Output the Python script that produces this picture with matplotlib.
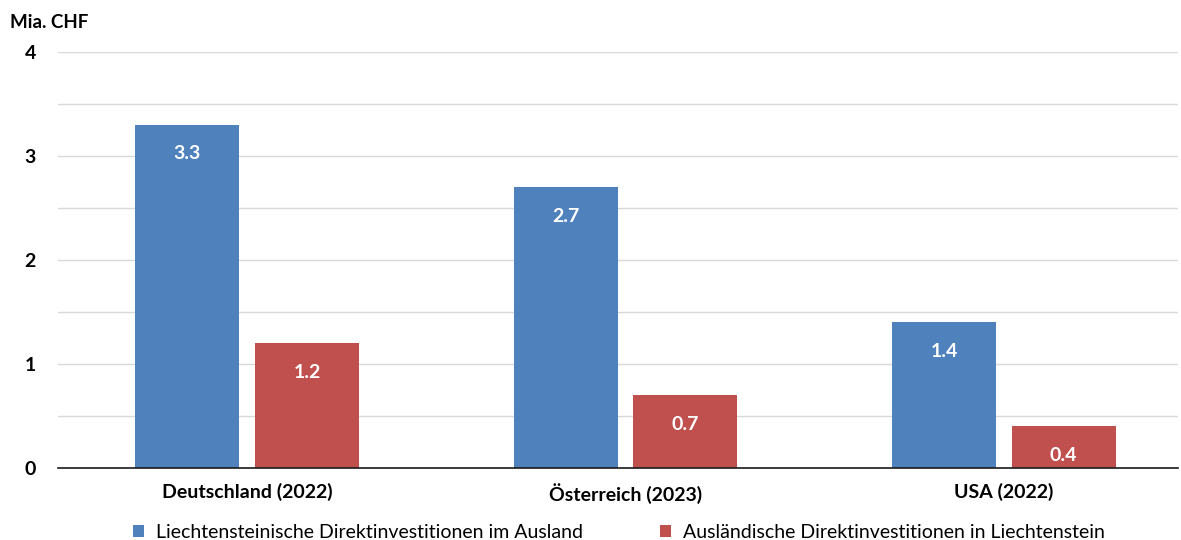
import numpy as np
import matplotlib
matplotlib.use("Agg")
import matplotlib.pyplot as plt

plt.rcParams['font.family'] = ['Lato', 'DejaVu Sans']

categories = ['Deutschland (2022)', 'Österreich (2023)', 'USA (2022)']
ausland = [3.3, 2.7, 1.4]
inland = [1.2, 0.7, 0.4]
series_names = ['Liechtensteinische Direktinvestitionen im Ausland',
                'Ausländische Direktinvestitionen in Liechtenstein']
yticks = [0, 1, 2, 3, 4]

blue = '#4F81BD'
red = '#C0504D'

fig = plt.figure(figsize=(11.81, 5.40), dpi=100)
ax = fig.add_axes([58 / 1181, 72 / 540, 1120 / 1181, 416 / 540])

x = np.arange(len(categories))
w = 0.275
off = 0.158
b1 = ax.bar(x - off, ausland, w, color=blue, label=series_names[0], zorder=3)
b2 = ax.bar(x + off, inland, w, color=red, label=series_names[1], zorder=3)

for bars, vals in ((b1, ausland), (b2, inland)):
    for rect, v in zip(bars, vals):
        ax.annotate(f'{v:.1f}', (rect.get_x() + rect.get_width() / 2, v),
                    xytext=(0, -21), textcoords='offset points',
                    ha='center', va='center', color='white',
                    fontsize=14, fontweight='bold', zorder=4)

ax.set_xlim(-0.5, 2.46)
ax.set_ylim(0, 4)
ax.set_yticks(yticks)
ax.set_yticks(np.arange(0.5, 4, 1), minor=True)
ax.set_yticklabels([str(t) for t in yticks], fontsize=14, fontweight='bold')
ax.set_xticks(x)
ax.set_xticklabels(categories, fontsize=14, fontweight='bold')
ax.tick_params(axis='both', length=0)
ax.tick_params(axis='y', which='minor', length=0)
ax.tick_params(axis='y', pad=16)
ax.tick_params(axis='x', pad=11)

ax.grid(axis='y', which='both', color='#D9D9D9', linewidth=1, zorder=0)
for s in ['top', 'right', 'left']:
    ax.spines[s].set_visible(False)
ax.spines['bottom'].set_color('#1a1a1a')
ax.spines['bottom'].set_linewidth(1.2)
ax.spines['bottom'].set_zorder(5)

fig.text(10 / 1181, 1 - 22 / 540, 'Mia. CHF', fontsize=13.5, fontweight='bold',
         ha='left', va='center')

fig.legend(loc='lower center', bbox_to_anchor=(0.524, -0.034), ncol=2,
           frameon=False, fontsize=14, handlelength=0.55, handleheight=0.55,
           handletextpad=0.6, columnspacing=4.0)

fig.savefig('out.png', dpi=100)
